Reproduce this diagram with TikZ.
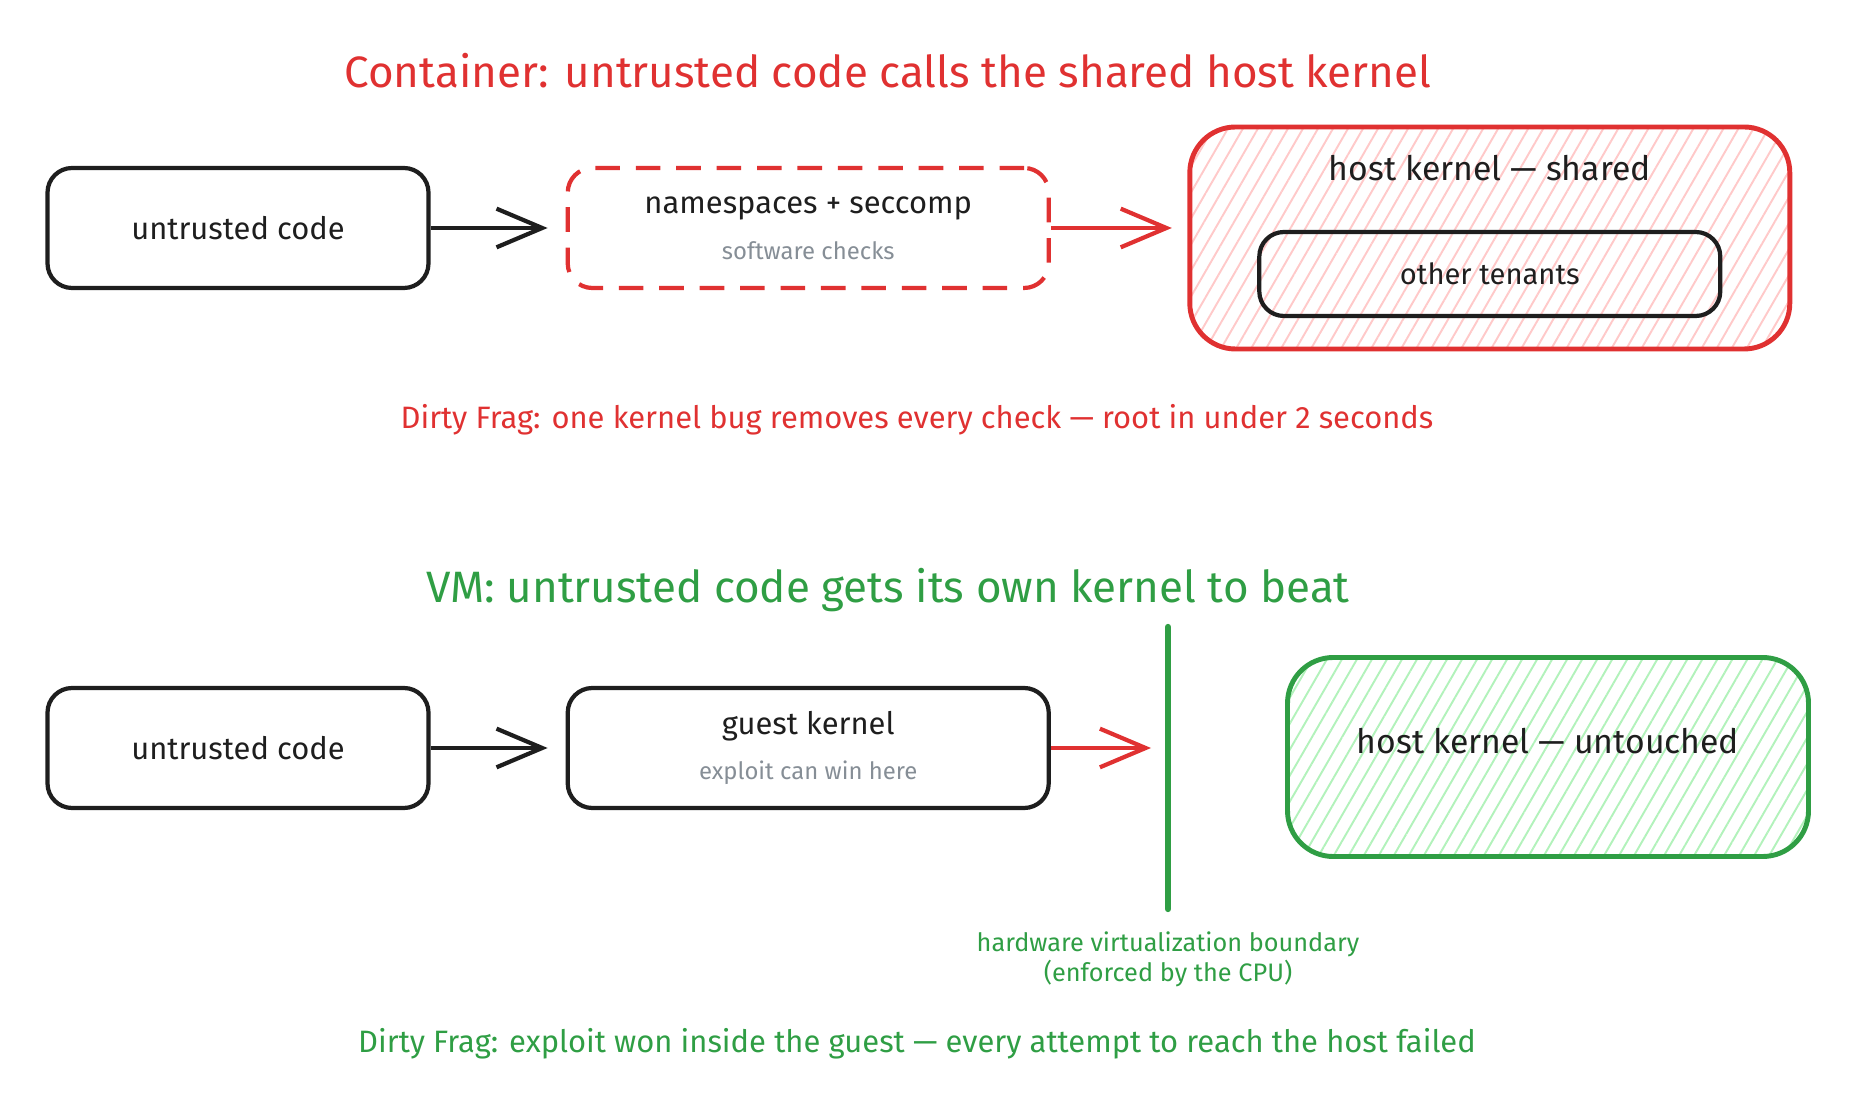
\documentclass[tikz,border=0pt]{standalone}
\usepackage{fontspec}
\setmainfont{Fira Sans}
\usetikzlibrary{positioning,arrows.meta,calc,patterns.meta}
\definecolor{ink}{HTML}{1E1E1E}
\definecolor{alarm}{HTML}{E03131}
\definecolor{safe}{HTML}{2F9E44}
\definecolor{muted}{HTML}{868E96}
\definecolor{blush}{HTML}{FFC9C9}
\definecolor{mint}{HTML}{B2F2BB}
\newcommand\hint[1]{{\fontsize{6.8}{8}\selectfont\color{muted}#1}}

\begin{document}
\begin{tikzpicture}[node distance=13.5mm,
      box/.style={rectangle,rounded corners=7pt,draw=ink,line width=1.2pt,align=center,text=ink,
                  font=\fontsize{8.8}{13}\selectfont,minimum width=3.81cm,minimum height=1.2cm,inner sep=0pt},
      wide/.style={box,minimum width=4.81cm},
      zone/.style={rectangle,rounded corners=13pt,line width=1.4pt,inner sep=0pt},
      hatch/.style={pattern={Lines[angle=60,distance=3.7pt,line width=0.55pt]}},
      go/.style={line width=1.2pt,-{Straight Barb[length=13pt,width=11pt,line width=1.2pt]}},
      head/.style={font=\fontsize{12.5}{14}\selectfont},
      caption/.style={font=\fontsize{8.8}{10}\selectfont}]
    \useasboundingbox (0,0) rectangle (18.56,11.11);
    \node[head,text=alarm](t1) at (8.88,10.40){Container: untrusted code calls the shared host kernel};
    \node[box](a1) at (2.38,8.83){untrusted code};
    \node[wide,draw=alarm,dash pattern=on 7pt off 4.5pt,right=of a1](b1){namespaces + seccomp\\\hint{software checks}};
    \node[zone,draw=alarm,hatch,pattern color=blush,minimum width=6cm,minimum height=2.22cm,
          right=1.38cm of b1,yshift=-1mm](c1){};
    \node[font=\fontsize{9.6}{11}\selectfont,text=ink] at ($(c1.north)+(0,-0.42)$){host kernel — shared};
    \node[box,minimum width=4.61cm,minimum height=0.84cm,font=\fontsize{8.3}{10}\selectfont](ten)
          at ($(c1.center)+(0,-0.36)$){other tenants};
    \draw[go,ink,shorten >=1.8mm](a1)--(b1);
    \draw[go,alarm,shorten >=1.7mm](b1.east)--(b1.east -| c1.west);
    \node[caption,text=alarm](cap1) at (9.17,6.91){Dirty Frag: one kernel bug removes every check — root in under 2 seconds};

    \node[head,text=safe](t2) at (8.88,5.21){VM: untrusted code gets its own kernel to beat};
    \node[box](a2) at (2.38,3.63){untrusted code};
    \node[wide,right=of a2](b2){guest kernel\\\hint{exploit can win here}};
    \coordinate (hit) at (11.51,3.63);
    \coordinate (wtop) at (11.68,4.84);
    \coordinate (wbot) at (11.68,2.02);
    \draw[safe,line width=1.8pt,line cap=round](wtop)--(wbot);
    \node[zone,draw=safe,hatch,pattern color=mint,minimum width=5.21cm,minimum height=1.99cm](c2) at (15.48,3.54){};
    \node[font=\fontsize{9.6}{11}\selectfont,text=ink] at ($(c2.center)+(0,0.16)$){host kernel — untouched};
    \draw[go,ink,shorten >=1.8mm](a2)--(b2);
    \draw[go,alarm](b2)--(hit);
    \node[font=\fontsize{7.2}{8.5}\selectfont,text=safe,align=center](wall) at ($(wbot)+(0,-0.50)$){hardware virtualization boundary\\(enforced by the CPU)};
    \node[caption,text=safe](cap2) at (9.17,0.67){Dirty Frag: exploit won inside the guest — every attempt to reach the host failed};
  \end{tikzpicture}
\end{document}
